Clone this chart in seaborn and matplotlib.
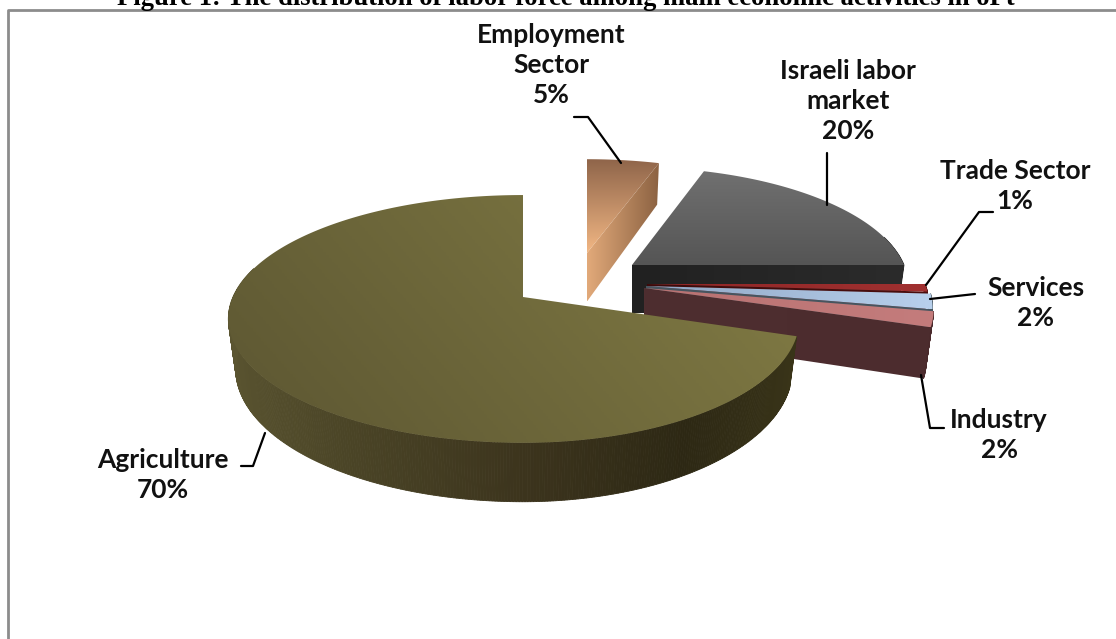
import numpy as np
import matplotlib
matplotlib.use("Agg")
import matplotlib.pyplot as plt
from matplotlib.patches import Polygon
import seaborn as sns

# Shares of the labour force, in clockwise order from twelve o'clock
categories = ["Employment Sector", "Israeli labor market", "Trade Sector",
              "Services", "Industry", "Agriculture"]
shares = [5, 20, 1, 2, 2, 70]
label_names = ["Employment\nSector", "Israeli labor\nmarket", "Trade Sector",
               "Services", "Industry", "Agriculture"]
title = "Figure 1: The distribution of labor force among main economic activities in oPt"

sns.set_theme(style="white")

# Projection of the tilted disc
TILT = 0.177
RY = 120.0
DEPTH = 48.5
BASE_SHRINK = 0.975

# Per-slice drawing style: exploded apex, radius scales, palettes
style = {
    "Employment Sector": dict(apex=(587, 253), sx=(272, 272), sy=0.92,
                              top=["#8f654a", "#f2b784"], top_dir=(0, 1),
                              wall=["#333333", "#333333"], radial=["#e2aa7a", "#8c6242"]),
    "Israeli labor market": dict(apex=(632, 265), sx=(272, 272), sy=0.96,
                                 top=["#707070", "#555555"], top_dir=(0, 1),
                                 wall=["#2a2a2a", "#2a2a2a"], radial=["#212121", "#2b2b2b"]),
    "Trade Sector": dict(apex=(647, 284), sx=(278, 278), sy=1.0,
                         top=["#8f2626", "#a03030"], top_dir=(1, 0),
                         wall=["#4a0e0e", "#4a0e0e"], radial=["#3d0a0a", "#4a0e0e"]),
    "Services": dict(apex=(646, 286), sx=(282, 282), sy=1.0,
                     top=["#8fa6c4", "#b8d0ec"], top_dir=(1, 0),
                     wall=["#47555f", "#47555f"], radial=["#47555f", "#47555f"]),
    "Industry": dict(apex=(644, 288), sx=(285, 285), sy=1.0,
                     top=["#b87272", "#c47c7c"], top_dir=(1, 0),
                     wall=["#4e2e30", "#4a2a2c"], radial=["#4e2e30", "#4c2c2e"]),
    "Agriculture": dict(apex=(523, 297), sx=(290, 272), sy=1.0,
                        top=["#5c5632", "#837d45"], top_dir=(0.75, -0.65),
                        wall=["#5b5531", "#4a4426", "#3c341d", "#2d2814", "#3b3619"], radial=None),
}

# Leader lines and label anchors
label_pos = {
    "Employment Sector": (551, 65), "Israeli labor market": (848, 101),
    "Trade Sector": (1015, 186), "Services": (1036, 303),
    "Industry": (999, 435), "Agriculture": (163, 475),
}
leaders = {
    "Employment Sector": [(574, 117), (588, 117), (621, 163)],
    "Israeli labor market": [(827, 153), (827, 205)],
    "Trade Sector": [(993, 212), (979, 212), (926, 285)],
    "Services": [(975, 294), (930, 299)],
    "Industry": [(921, 375), (930, 428), (944, 428)],
    "Agriculture": [(241, 466), (253, 466), (265, 433)],
}


def project(theta_deg, s, base=False):
    """Map an angle on the unit disc to canvas pixels, with perspective."""
    t = np.radians(theta_deg)
    u, v = np.cos(t), np.sin(t)
    w = 1 + TILT * v
    bx = np.where(u < 0, s["sx"][0], s["sx"][1])
    x = bx * u / w
    y = -RY * s["sy"] * v / w
    if base:
        x = x * BASE_SHRINK
        y = y + DEPTH / w
    return s["apex"][0] + x, s["apex"][1] + y


def gradient_face(ax, pts, colors, direction):
    pts = np.asarray(pts)
    x0, y0 = pts.min(axis=0)
    x1, y1 = pts.max(axis=0)
    xs, ys = np.meshgrid(np.linspace(x0, x1, 200), np.linspace(y0, y1, 200))
    field = xs * direction[0] + ys * direction[1]
    field = (field - field.min()) / max(np.ptp(field), 1e-6)
    cmap = sns.blend_palette(colors, as_cmap=True)
    im = ax.imshow(field, extent=(x0, x1, y1, y0), cmap=cmap, aspect="auto",
                   interpolation="bilinear", zorder=ax._order)
    im.set_clip_path(Polygon(pts, closed=True, transform=ax.transData))
    ax._order += 1


def draw_slice(ax, s, start, end):
    thetas = np.linspace(start, end, max(int(abs(end - start) * 2), 4))
    xt, yt = project(thetas, s)
    xb, yb = project(thetas, s, base=True)
    apex = np.array(s["apex"], float)

    # Outer wall, shaded across its width
    ramp = sns.blend_palette(s["wall"], n_colors=256)
    for i in range(len(thetas) - 1):
        mid = np.radians((thetas[i] + thetas[i + 1]) / 2)
        if np.sin(mid) > 0.25:
            continue
        c = ramp[int((np.cos(mid) + 1) / 2 * 255)]
        quad = [(xt[i], yt[i]), (xt[i + 1], yt[i + 1]), (xb[i + 1], yb[i + 1]), (xb[i], yb[i])]
        ax.add_patch(Polygon(quad, closed=True, fc=c, ec=c, lw=0.6, zorder=ax._order))
    ax._order += 1

    # Radial cut face on the clockwise end of the slice
    if s["radial"] is not None:
        quad = [tuple(apex), (xt[-1], yt[-1]), (xb[-1], yb[-1]),
                (apex[0], apex[1] + DEPTH)]
        gradient_face(ax, quad, s["radial"], (1, 0))

    top = [tuple(apex)] + list(zip(xt, yt))
    gradient_face(ax, top, s["top"], s["top_dir"])


fig = plt.figure(figsize=(11.16, 6.39), dpi=100)
ax = fig.add_axes([0, 0, 1, 1])
ax._order = 2

# Slice angles follow from the shares, running clockwise from the top
edges = 90 - np.cumsum([0] + shares) * 3.6
spans = {c: (edges[i], edges[i + 1]) for i, c in enumerate(categories)}

for name in categories:
    draw_slice(ax, style[name], *spans[name])

ax.set_xlim(0, 1116)
ax.set_ylim(639, 0)
ax.axis("off")

# Chart frame
ax.plot([8, 8, 1116], [639, 9.5, 9.5], color="#8c8c8c", lw=2, zorder=1, clip_on=False)

ax.text(566, 5, title, ha="center", va="baseline", family="Liberation Serif",
        weight="bold", fontsize=19.2, color="black", zorder=50, clip_on=False)

for name, value in zip(categories, shares):
    path = np.array(leaders[name])
    ax.plot(path[:, 0], path[:, 1], color="black", lw=1.6, zorder=40)
    text = f"{label_names[categories.index(name)]}\n{value}%"
    ax.text(*label_pos[name], text, ha="center", va="center", family="Lato",
            weight="bold", fontsize=19, linespacing=1.3, color="#111111", zorder=41)

fig.savefig("out.png", dpi=100, facecolor="white")
